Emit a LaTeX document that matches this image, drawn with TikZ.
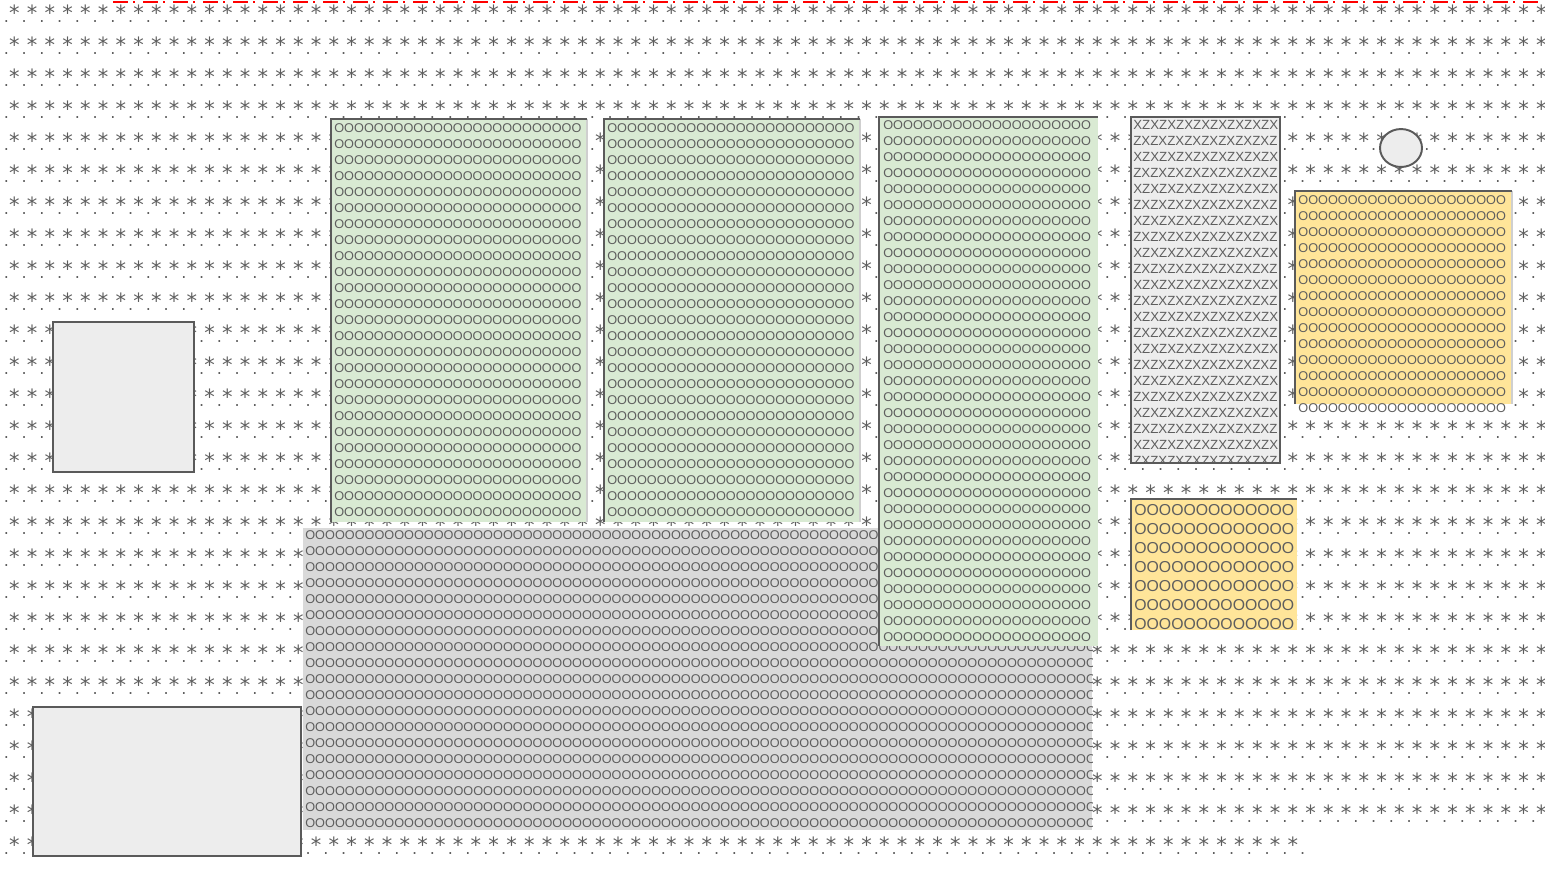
\documentclass[tikz,border=0pt]{standalone}
\usepackage{fontspec}
\setmainfont{Liberation Sans}
\newfontfamily\bgfont{DejaVu Sans}
\usepackage{tikz}
\usetikzlibrary{shapes.geometric}

\definecolor{ink}{HTML}{5E5E5E}
\definecolor{edge}{HTML}{5A5A5A}
\definecolor{paleedge}{HTML}{CFCFCF}
\definecolor{greenfill}{HTML}{D9EAD3}
\definecolor{yellowfill}{HTML}{FFE599}
\definecolor{grayfill}{HTML}{D9D9D9}
\definecolor{lightfill}{HTML}{EDEDED}

% one background cell is 17.76px wide
\newlength\cellw
\setlength\cellw{10.106pt}
\newcommand{\glyphrow}[2]{\foreach \g in {1,...,#2}{\makebox[\cellw][c]{#1}}}
\newcommand{\ostring}[1]{\foreach \g in {1,...,#1}{O}}

\begin{document}
\begin{tikzpicture}[x=0.02cm, y=-0.02cm,
    bgstar/.style={anchor=base west, inner sep=0pt, text=ink,
                   font=\bgfont\fontsize{11.95pt}{12pt}\selectfont},
    bgdot/.style={anchor=base west, inner sep=0pt, text=ink,
                  font=\bgfont\fontsize{9.1pt}{10pt}\selectfont},
    otext/.style={anchor=west, inner sep=0pt, text=ink,
                  font=\fontsize{7.23pt}{8pt}\selectfont},
    bigotext/.style={otext, font=\fontsize{9pt}{10pt}\selectfont},
    xztext/.style={otext, font=\fontsize{7.57pt}{8pt}\selectfont},
    edgeline/.style={draw=edge, line width=1.1pt},
    paleline/.style={draw=paleedge, line width=0.6pt},
    redline/.style={draw=red, line width=1.4pt,
                    dash pattern=on 8.54pt off 2.85pt on 1.14pt off 4.55pt}
]
\useasboundingbox (0,0) rectangle (1545,870);

% background rows
\foreach \r in {0,...,25}{
  \node[bgstar] (stars\r) at (5.12,{20+32*\r}) {\glyphrow{*}{87}};
  \node[bgdot] (dots\r) at (-2.88,{22.7+32*\r}) {\glyphrow{.}{87}};
}
\node[bgstar] (stars26) at (5.12,852) {\glyphrow{*}{73}};
\node[bgdot] (dots26) at (-2.88,854.7) {\glyphrow{.}{74}};

\draw[redline] (113,2) -- (1540,2);

% big gray block
\begin{scope}
  \clip (303,528) rectangle (1092,830);
  \fill[grayfill] (303,528) rectangle (1092,830);
  \foreach \k in {0,...,18}
    \node[otext] (gb\k) at (305,{535+16*\k}) {\ostring{80}};
\end{scope}

% green block A
\begin{scope}
  \clip (331,119) rectangle (587,522);
  \fill[greenfill] (331,119) rectangle (587,522);
  \foreach \k in {0,...,24}
    \node[otext] (ga\k) at (334,{128+16*\k}) {\ostring{25}};
\end{scope}
\draw[paleline] (587,119) -- (587,522);
\draw[edgeline] (331,522) -- (331,119) -- (587,119);

% green block B
\begin{scope}
  \clip (604,119) rectangle (860,522);
  \fill[greenfill] (604,119) rectangle (860,522);
  \foreach \k in {0,...,24}
    \node[otext] (gbb\k) at (607,{128+16*\k}) {\ostring{25}};
\end{scope}
\draw[paleline] (860,119) -- (860,522);
\draw[edgeline] (604,522) -- (604,119) -- (860,119);

% green block C
\begin{scope}
  \clip (879,117) rectangle (1098,646);
  \fill[greenfill] (879,117) rectangle (1098,646);
  \foreach \k in {0,...,32}
    \node[otext] (gc\k) at (883,{125+16*\k}) {\ostring{21}};
\end{scope}
\draw[edgeline] (879,646) -- (879,117) -- (1098,117);

% XZ block
\begin{scope}
  \clip (1131,117) rectangle (1280,463);
  \fill[lightfill] (1131,117) rectangle (1280,463);
  \foreach \k in {0,2,...,20}{
    \node[xztext] (xz\k) at (1133,{125+16*\k}) {XZXZXZXZXZXZXZXZX};
    \node[xztext] (zx\k) at (1133,{141+16*\k}) {ZXZXZXZXZXZXZXZXZ};
  }
\end{scope}
\draw[edgeline] (1131,117) rectangle (1280,463);

% round marker
\node[ellipse, draw=edge, line width=1.1pt, fill=lightfill, inner sep=0pt,
      minimum width=23.9pt, minimum height=21.6pt] (marker) at (1401,148) {};

% yellow block 1
\begin{scope}
  \clip (1295,191) rectangle (1512,404);
  \fill[yellowfill] (1295,191) rectangle (1512,404);
  \foreach \k in {0,...,12}
    \node[otext] (ya\k) at (1298,{200+16*\k}) {\ostring{21}};
\end{scope}
\fill[white] (1295,404) rectangle (1512,416);
\node[otext] (ya13) at (1298,408) {\ostring{21}};
\draw[paleline] (1512,191) -- (1512,404);
\draw[edgeline] (1295,404) -- (1295,191) -- (1512,191);

% yellow block 2
\begin{scope}
  \clip (1131,499) rectangle (1297,630);
  \fill[yellowfill] (1131,499) rectangle (1297,630);
  \foreach \k in {0,...,6}
    \node[bigotext] (yb\k) at (1134,{510+19*\k}) {\ostring{13}};
\end{scope}
\draw[edgeline] (1131,630) -- (1131,499) -- (1297,499);

% empty boxes on the left
\draw[edgeline, fill=lightfill] (53,322) rectangle (194,472);
\draw[edgeline, fill=lightfill] (33,707) rectangle (301,856);

\end{tikzpicture}
\end{document}
